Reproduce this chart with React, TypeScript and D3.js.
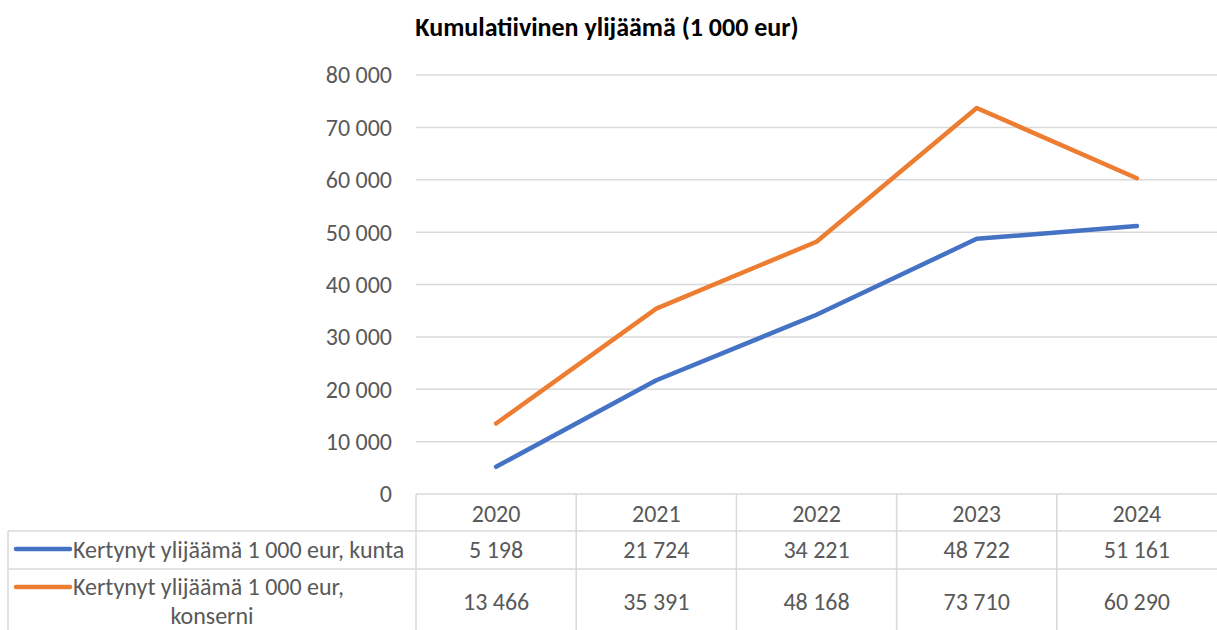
import { useEffect, useRef } from 'react';
import * as d3 from 'd3';

const years = ['2020', '2021', '2022', '2023', '2024'];
const kunta = [5198, 21724, 34221, 48722, 51161];
const konserni = [13466, 35391, 48168, 73710, 60290];
const yTicks = [0, 10000, 20000, 30000, 40000, 50000, 60000, 70000, 80000];
const seriesNames = ['Kertynyt ylijäämä 1 000 eur, kunta', 'Kertynyt ylijäämä 1 000 eur, konserni'];

const fmt = (v: number) => d3.format(',')(v).replace(/,/g, ' ');

export default function App() {
  const svgRef = useRef<SVGSVGElement>(null);

  useEffect(() => {
    const svg = d3.select(svgRef.current);
    svg.selectAll('*').remove();

    const width = 1217;
    const height = 630;
    const left = 416;
    const right = 1217;
    const top = 75;
    const bottom = 494;
    const font = 'Carlito, Calibri, Lato, sans-serif';
    const fs = 24;
    const textColor = '#595959';
    const gridColor = '#d9d9d9';
    const colors = ['#4472C4', '#ED7D31'];

    svg.attr('width', width).attr('height', height).style('font-family', font);

    const x = d3.scaleBand().domain(years).range([left, right]);
    const y = d3.scaleLinear().domain([0, 80000]).range([bottom, top]);

    svg.append('text')
      .attr('x', 607)
      .attr('y', 36)
      .attr('text-anchor', 'middle')
      .attr('font-weight', 'bold')
      .attr('font-size', 26)
      .attr('fill', '#000')
      .text('Kumulatiivinen ylijäämä (1 000 eur)');

    // gridlines
    svg.append('g')
      .selectAll('line')
      .data(yTicks)
      .join('line')
      .attr('x1', left)
      .attr('x2', right)
      .attr('y1', d => y(d))
      .attr('y2', d => y(d))
      .attr('stroke', gridColor)
      .attr('stroke-width', 1.5);

    svg.append('g')
      .selectAll('text')
      .data(yTicks)
      .join('text')
      .attr('x', 392)
      .attr('y', d => y(d))
      .attr('dy', '0.35em')
      .attr('text-anchor', 'end')
      .attr('font-size', fs)
      .attr('fill', textColor)
      .text(d => fmt(d));

    // table
    const rowTops = [bottom, 531, 569, 630];
    const table = svg.append('g');
    years.forEach(yr => {
      const vx = x(yr) as number;
      table.append('line')
        .attr('x1', vx).attr('x2', vx)
        .attr('y1', bottom).attr('y2', height)
        .attr('stroke', gridColor).attr('stroke-width', 1.5);
    });
    table.append('line')
      .attr('x1', 8).attr('x2', 8)
      .attr('y1', rowTops[1]).attr('y2', height)
      .attr('stroke', gridColor).attr('stroke-width', 1.5);
    [rowTops[1], rowTops[2]].forEach(ry => {
      table.append('line')
        .attr('x1', 8).attr('x2', right)
        .attr('y1', ry).attr('y2', ry)
        .attr('stroke', gridColor).attr('stroke-width', 1.5);
    });

    table.selectAll('text.year')
      .data(years)
      .join('text')
      .attr('class', 'year')
      .attr('x', d => (x(d) as number) + x.bandwidth() / 2)
      .attr('y', (rowTops[0] + rowTops[1]) / 2 + 1)
      .attr('dy', '0.35em')
      .attr('text-anchor', 'middle')
      .attr('font-size', fs)
      .attr('fill', textColor)
      .text(d => d);

    const rows = [kunta, konserni];
    rows.forEach((vals, i) => {
      const cy = i === 0 ? (rowTops[1] + rowTops[2]) / 2 : 602;
      table.append('g')
        .selectAll('text')
        .data(vals)
        .join('text')
        .attr('x', (_, j) => (x(years[j]) as number) + x.bandwidth() / 2)
        .attr('y', cy)
        .attr('dy', '0.35em')
        .attr('text-anchor', 'middle')
        .attr('font-size', fs)
        .attr('fill', textColor)
        .text(d => fmt(d));
    });

    // legend keys in table
    const keyY = [549, 587];
    keyY.forEach((ky, i) => {
      table.append('line')
        .attr('x1', 16).attr('x2', 70)
        .attr('y1', ky).attr('y2', ky)
        .attr('stroke', colors[i]).attr('stroke-width', 4.5)
        .attr('stroke-linecap', 'round');
    });
    table.append('text')
      .attr('x', 73).attr('y', 550).attr('dy', '0.35em')
      .attr('font-size', fs).attr('fill', textColor)
      .text(seriesNames[0]);
    table.append('text')
      .attr('x', 73).attr('y', 587).attr('dy', '0.35em')
      .attr('font-size', fs).attr('fill', textColor)
      .text('Kertynyt ylijäämä 1 000 eur,');
    table.append('text')
      .attr('x', 212).attr('y', 616).attr('dy', '0.35em')
      .attr('text-anchor', 'middle')
      .attr('font-size', fs).attr('fill', textColor)
      .text('konserni');

    // lines
    const line = d3.line<number>()
      .x((_, j) => (x(years[j]) as number) + x.bandwidth() / 2)
      .y(d => y(d));

    rows.forEach((vals, i) => {
      svg.append('path')
        .datum(vals)
        .attr('d', line)
        .attr('fill', 'none')
        .attr('stroke', colors[i])
        .attr('stroke-width', 4.5)
        .attr('stroke-linejoin', 'round')
        .attr('stroke-linecap', 'round');
    });
  }, []);

  return (
    <div style={{ position: 'absolute', left: 0, top: 0 }}>
      <svg ref={svgRef}></svg>
    </div>
  );
}
